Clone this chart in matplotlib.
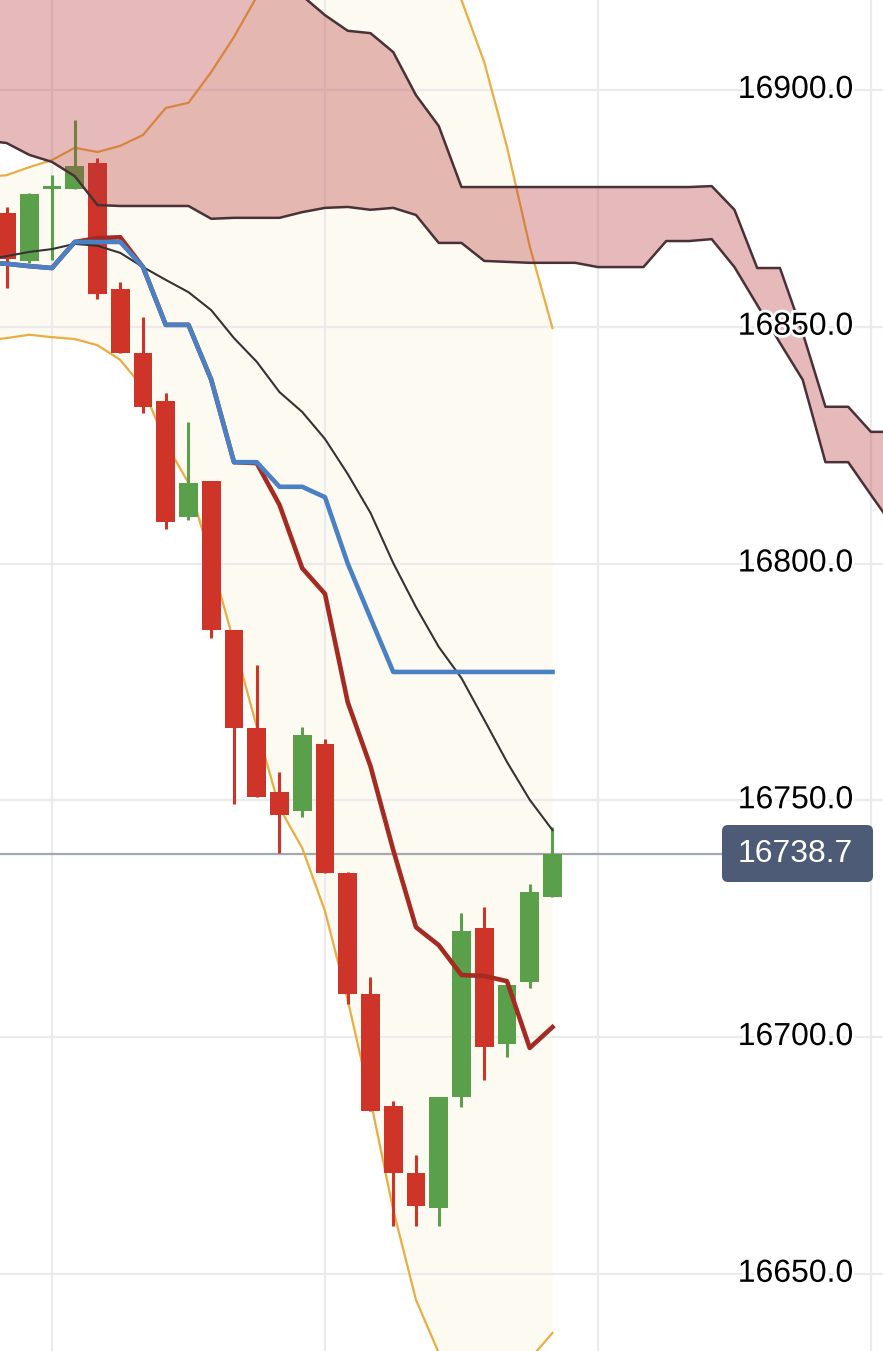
import numpy as np
import matplotlib.pyplot as plt
import matplotlib.patheffects as pe
from matplotlib.patches import FancyBboxPatch
from matplotlib.transforms import IdentityTransform

plt.rcParams['font.family'] = ['Liberation Sans', 'DejaVu Sans']

# candles (bar 0 .. 24)
opens = [16874.0, 16863.9, 16879.1, 16879.1, 16884.6, 16858.0, 16844.5, 16834.3,
         16809.8, 16817.4, 16786.0, 16765.3, 16751.7, 16747.7, 16761.9, 16734.6,
         16709.1, 16685.4, 16671.3, 16663.9, 16687.3, 16723.0, 16698.5, 16711.6, 16729.6]
highs = [16875.3, 16878.2, 16882.0, 16893.7, 16885.6, 16859.5, 16852.1, 16836.0,
         16829.9, 16817.4, 16786.0, 16778.6, 16756.0, 16765.5, 16762.9, 16734.9,
         16712.7, 16686.5, 16675.1, 16687.3, 16726.2, 16727.4, 16711.0, 16732.3, 16744.3]
lows = [16858.2, 16863.5, 16864.1, 16879.1, 16855.9, 16844.5, 16831.8, 16807.3,
        16809.2, 16784.3, 16749.2, 16750.7, 16738.9, 16746.5, 16734.6, 16707.0,
        16684.4, 16660.1, 16660.1, 16660.1, 16685.2, 16690.9, 16695.8, 16710.4, 16729.6]
closes = [16864.3, 16878.0, 16879.7, 16884.0, 16856.9, 16844.5, 16833.0, 16808.8,
          16817.0, 16786.0, 16765.3, 16750.7, 16746.9, 16763.8, 16734.6, 16709.1,
          16684.4, 16671.3, 16664.3, 16687.3, 16722.4, 16697.9, 16711.0, 16730.6, 16738.7]

# indicator lines, bar -1 .. 24
kijun = [16863.5, 16863.3, 16862.8, 16862.4, 16867.9, 16867.9, 16867.9, 16862.6,
         16850.4, 16850.4, 16838.8, 16821.4, 16821.4, 16816.2, 16816.2, 16814.0,
         16800.0, 16788.5, 16777.1, 16777.1, 16777.1, 16777.1, 16777.1, 16777.1,
         16777.1, 16777.1]
tenkan = [16863.5, 16863.3, 16862.8, 16862.4, 16867.9, 16868.7, 16868.9, 16862.6,
          16850.4, 16850.4, 16838.8, 16821.4, 16821.2, 16812.4, 16799.0, 16793.6,
          16770.7, 16757.2, 16739.5, 16723.2, 16719.4, 16713.1, 16712.9, 16711.8,
          16697.7, 16702.1]
bb_mid = [16864.1, 16864.9, 16865.8, 16866.4, 16867.5, 16867.1, 16865.6, 16862.6,
          16859.9, 16857.3, 16853.5, 16847.6, 16842.6, 16836.2, 16832.0, 16826.3,
          16818.9, 16810.7, 16800.1, 16790.8, 16782.4, 16775.8, 16767.0, 16758.1,
          16750.1, 16743.7]
bb_upper = [16881.6, 16882.0, 16883.7, 16885.2, 16887.8, 16886.9, 16888.2, 16890.5,
            16896.2, 16897.3, 16903.8, 16911.2, 16919.7, 16924.0, 16924.1, 16926.0,
            16930.0, 16934.7, 16936.7, 16937.1, 16932.2, 16919.0, 16905.9, 16888.0,
            16867.0, 16849.7]
bb_lower = [16847.0, 16847.6, 16848.3, 16847.8, 16847.4, 16846.1, 16843.0, 16837.1,
            16825.4, 16817.0, 16800.7, 16783.2, 16765.5, 16748.4, 16739.9, 16726.6,
            16707.8, 16686.7, 16663.5, 16644.5, 16633.3, 16631.5, 16628.1, 16628.2,
            16632.0, 16637.5]

# ichimoku cloud, bar -1 .. 39
span_a = [16935.0, 16935.0, 16935.0, 16935.0, 16938.0, 16938.0, 16938.0, 16938.0,
          16938.0, 16936.0, 16930.0, 16928.0, 16925.0, 16921.5, 16919.9, 16915.8,
          16912.5, 16912.0, 16908.0, 16898.9, 16892.4, 16879.5, 16879.5, 16879.5,
          16879.5, 16879.5, 16879.5, 16879.5, 16879.5, 16879.5, 16879.5, 16879.5,
          16879.7, 16874.7, 16862.4, 16862.4, 16848.7, 16833.1, 16833.1, 16827.8,
          16827.8]
span_b = [16889.4, 16888.8, 16886.3, 16884.8, 16881.8, 16875.7, 16875.5, 16875.5,
          16875.5, 16875.5, 16872.8, 16873.0, 16873.0, 16873.0, 16874.2, 16875.1,
          16875.3, 16874.7, 16875.1, 16873.6, 16867.7, 16867.7, 16863.9, 16863.7,
          16863.5, 16863.5, 16863.5, 16862.6, 16862.6, 16862.6, 16868.1, 16868.1,
          16868.5, 16862.6, 16854.6, 16846.6, 16838.8, 16821.4, 16821.4, 16814.5,
          16807.7]

y_ticks = [16650, 16700, 16750, 16800, 16850, 16900]
last_price = 16738.7

green = '#5aa04b'
red = '#cf3429'

fig = plt.figure(figsize=(8.83, 13.51), dpi=100)
ax = fig.add_axes([0, 0, 1, 1])

bars = np.arange(len(opens))
xl = np.arange(-1, len(kijun) - 1)
xc = np.arange(-1, len(span_a) - 1)

# bollinger band
ax.fill_between(xl, bb_lower, bb_upper, color='#fcfaf1', lw=0, zorder=0.2)
ax.plot(xl, bb_upper, color='#e9ad43', lw=1.6, zorder=1.2)
ax.plot(xl, bb_lower, color='#e9ad43', lw=1.6, zorder=1.2)

ax.axhline(last_price, xmin=0, xmax=722 / 883, color='#a4a8b1', lw=1.6, zorder=0.8)

# candles
for i in bars:
    c = green if closes[i] >= opens[i] else red
    ax.vlines(i, lows[i], highs[i], color=c, lw=2.2, zorder=1.9)
    ax.bar(i, abs(closes[i] - opens[i]), bottom=min(opens[i], closes[i]),
           width=0.82, color=c, lw=0, zorder=2)

ax.plot(xl, bb_mid, color='#333333', lw=1.5, zorder=2.5)
ax.plot(xl, tenkan, color='#a52a22', lw=3.3, zorder=2.6)
ax.plot(xl, kijun, color='#4a80c4', lw=3.3, zorder=2.7)

# cloud
ax.fill_between(xc, span_b, span_a, color='#b83a3a', alpha=0.35, lw=0, zorder=3)
ax.plot(xc, span_a, color='#4a3137', lw=1.8, zorder=3.5)
ax.plot(xc, span_b, color='#4a3137', lw=1.8, zorder=3.5)

ax.set_xlim(-0.286, 38.53)
ax.set_ylim(16633.7, 16919.0)
ax.set_xticks([2, 14, 26, 38])
ax.set_yticks(y_ticks)
ax.set_axisbelow(True)
ax.grid(color='#ebebeb', lw=1.6)
ax.tick_params(length=0, labelbottom=False, labelleft=False)
for s in ax.spines.values():
    s.set_visible(False)

tr = ax.get_yaxis_transform()
for v in y_ticks:
    ax.text(853 / 883, v, f'{v:.1f}', transform=tr, ha='right', va='center',
            fontsize=23, color='black', zorder=5,
            path_effects=[pe.withStroke(linewidth=4, foreground='white')])

# last price tag
box = FancyBboxPatch((722, 1351 - 882), 151, 57, boxstyle='round,pad=0,rounding_size=6',
                     transform=IdentityTransform(), fc='#4e5b76', ec='none', zorder=6)
fig.add_artist(box)
fig.text(853 / 883, (1351 - 853.5) / 1351, f'{last_price:.1f}', ha='right', va='center',
         fontsize=23, color='white', zorder=7)

fig.savefig('out.png', dpi=100)
